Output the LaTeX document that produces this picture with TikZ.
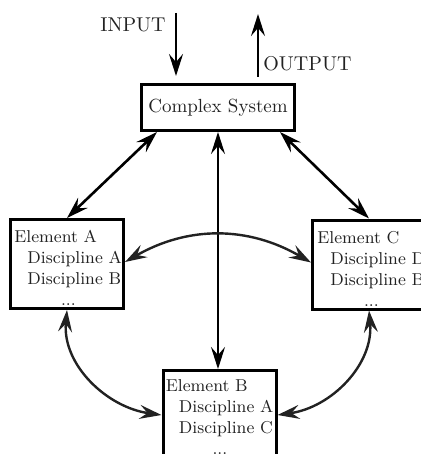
\documentclass[tikz,border=0pt]{standalone}
\usetikzlibrary{arrows.meta,calc}
\definecolor{ink}{HTML}{222222}
\begin{document}
\begin{tikzpicture}[x=0.5pt,y=-0.5pt,
  oneway/.style={-{Stealth[length=11pt,width=7pt,inset=4pt]}},
  twoway/.style={{Stealth[length=11pt,width=7pt,inset=4pt]}-{Stealth[length=11pt,width=7pt,inset=4pt]}},
  link/.style={line width=1.3pt,draw=black},
  curve/.style={line width=1.2pt,draw=ink},
  sysbox/.style={draw=black,line width=1.5pt,minimum width=76.5pt,minimum height=23pt,
    inner sep=0pt,font=\fontsize{9.5}{11}\selectfont,text=ink},
  elbox/.style={draw=black,line width=1.5pt,minimum width=56.5pt,minimum height=44.5pt,inner sep=0pt},
  eltext/.style={anchor=north west,inner sep=0pt,align=left,text width=54pt,
    font=\fontsize{8.6}{10.5}\selectfont,text=ink},
  lbl/.style={inner sep=0pt,font=\fontsize{10}{12}\selectfont,text=ink}
]
\useasboundingbox (0,0) rectangle (421,454);
\clip (0,0) rectangle (421,454);

% system and its elements
\node[sysbox] (cs) at (218,107.5) {Complex System};
\node[elbox] (A) at (67,264) {};
\node[elbox] (C) at (369,264.5) {};
\node[elbox] (B) at (219.5,415) {};

\node[eltext] (Atxt) at ([shift={(5,12)}]A.north west)
  {Element A\\\hspace*{6.5pt}Discipline A\\\hspace*{6.5pt}Discipline B\\\hspace*{\fill}...\hspace*{\fill}};
\node[eltext] (Ctxt) at ([shift={(6,12)}]C.north west)
  {Element C\\\hspace*{6.5pt}Discipline D\\\hspace*{6.5pt}Discipline B\\\hspace*{\fill}...\hspace*{\fill}};
\node[eltext] (Btxt) at ([shift={(4,10)}]B.north west)
  {Element B\\\hspace*{6.5pt}Discipline A\\\hspace*{6.5pt}Discipline C\\\hspace*{\fill}...\hspace*{\fill}};

% input and output
\node[lbl,anchor=east] (inlbl) at (166,25) {INPUT};
\node[lbl,anchor=west] (outlbl) at (263,64) {OUTPUT};
\coordinate (inTop) at (176,13);
\coordinate (outTop) at (258,14);
\draw[link,oneway,shorten >=3.5pt] (inTop) -- (inTop |- cs.north);
\draw[link,oneway,shorten <=3pt] (outTop |- cs.north) -- (outTop);

% system <-> elements
\draw[link,twoway] ([xshift=8.5pt]cs.south west) -- (A.north);
\draw[link,twoway] ([xshift=-8pt]cs.south east) -- (C.north);
\draw[link,twoway] (cs.south) -- (cs.south |- B.north);

% element <-> element
\draw[curve,twoway] ([yshift=1pt]A.east) to[bend left=30] ([yshift=1pt]C.west);
\draw[curve,twoway] (A.south) to[out=-95,in=172] (B.west);
\draw[curve,twoway] (C.south) to[out=-85,in=8] (B.east);
\end{tikzpicture}
\end{document}
